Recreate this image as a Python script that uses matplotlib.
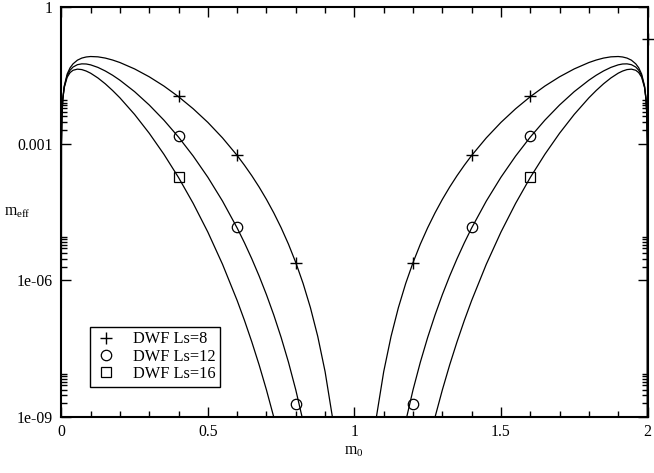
import matplotlib
matplotlib.use("Agg")
import matplotlib.pyplot as plt
import numpy as np

plt.rcParams['font.family'] = ['Liberation Serif', 'DejaVu Serif']
plt.rcParams['mathtext.default'] = 'regular'

# ---- curve data (log10 of m_eff) ----
x_left = [0, 0.0005, 0.002, 0.005, 0.01, 0.02, 0.03, 0.04, 0.055, 0.07, 0.085, 0.1,
          0.125, 0.15, 0.175, 0.2, 0.25, 0.3, 0.35, 0.4, 0.45, 0.5, 0.55, 0.6, 0.625,
          0.65, 0.675, 0.7, 0.725, 0.75, 0.775, 0.8, 0.825, 0.85, 0.875, 0.9, 0.925, 0.95]
x_right = [1.05, 1.075, 1.1, 1.125, 1.15, 1.175, 1.2, 1.225, 1.25, 1.275, 1.3, 1.325,
           1.35, 1.375, 1.4, 1.45, 1.5, 1.55, 1.6, 1.65, 1.7, 1.75, 1.8, 1.825, 1.85,
           1.875, 1.9, 1.915, 1.93, 1.945, 1.96, 1.97, 1.98, 1.99, 1.995, 1.998, 1.9995, 2.0]

log_L8_left = [-12, -3.002, -2.405, -2.018, -1.736, -1.472, -1.334, -1.248, -1.167, -1.121,
               -1.097, -1.087, -1.094, -1.121, -1.164, -1.219, -1.359, -1.532, -1.735, -1.969,
               -2.234, -2.533, -2.873, -3.259, -3.474, -3.704, -3.953, -4.224, -4.520, -4.845,
               -5.205, -5.610, -6.069, -6.601, -7.232, -8.004, -9.002, -10.409]
log_L8_right = [-10.409, -9.002, -8.004, -7.232, -6.601, -6.069, -5.610, -5.205, -4.845,
                -4.520, -4.224, -3.953, -3.704, -3.474, -3.259, -2.873, -2.533, -2.234,
                -1.969, -1.735, -1.532, -1.359, -1.219, -1.164, -1.121, -1.094, -1.087,
                -1.097, -1.121, -1.167, -1.248, -1.334, -1.472, -1.736, -2.018, -2.405,
                -3.002, -12]

log_L12_left = [-12, -3.003, -2.408, -2.027, -1.753, -1.507, -1.387, -1.318, -1.266, -1.248,
                -1.251, -1.270, -1.326, -1.404, -1.498, -1.607, -1.858, -2.151, -2.483, -2.856,
                -3.272, -3.737, -4.260, -4.851, -5.177, -5.528, -5.906, -6.316, -6.762, -7.253,
                -7.796, -8.405, -9.097, -9.897, -10.844, -12.004, -13.50, -15.62]
log_L12_right = [-15.62, -13.50, -12.004, -10.844, -9.897, -9.097, -8.405, -7.796, -7.253,
                 -6.762, -6.316, -5.906, -5.528, -5.177, -4.851, -4.260, -3.737, -3.272,
                 -2.856, -2.483, -2.151, -1.858, -1.607, -1.498, -1.404, -1.326, -1.270,
                 -1.251, -1.248, -1.266, -1.318, -1.387, -1.507, -1.753, -2.027, -2.408,
                 -3.003, -12]

log_L16_left = [-12, -3.004, -2.412, -2.036, -1.771, -1.542, -1.440, -1.389, -1.364, -1.374,
                -1.406, -1.453, -1.558, -1.686, -1.833, -1.994, -2.358, -2.771, -3.232, -3.743,
                -4.311, -4.941, -5.647, -6.443, -6.881, -7.352, -7.858, -8.407, -9.005, -9.661,
                -10.388, -11.20, -12.125, -13.19, -14.46, -16.00, -18.0, -20.8]
log_L16_right = [-20.8, -18.0, -16.00, -14.46, -13.19, -12.125, -11.20, -10.388, -9.661,
                 -9.005, -8.407, -7.858, -7.352, -6.881, -6.443, -5.647, -4.941, -4.311,
                 -3.743, -3.232, -2.771, -2.358, -1.994, -1.833, -1.686, -1.558, -1.453,
                 -1.406, -1.374, -1.364, -1.389, -1.440, -1.542, -1.771, -2.036, -2.412,
                 -3.004, -12]

# ---- marker data ----
m0_L8 = [0.4, 0.6, 0.8, 1.2, 1.4, 1.6, 2.0]
log_meff_L8 = [-1.95, -3.25, -5.61, -5.61, -3.25, -1.95, -0.70]
m0_L12 = [0.4, 0.6, 0.8, 1.2, 1.4, 1.6]
log_meff_L12 = [-2.84, -4.84, -8.71, -8.71, -4.84, -2.84]
m0_L16 = [0.4, 1.6]
log_meff_L16 = [-3.74, -3.74]

legend_labels = ['DWF Ls=8', 'DWF Ls=12', 'DWF Ls=16']
xtick_vals = [0, 0.5, 1, 1.5, 2]
xtick_labels = ['0', '0.5', '1', '1.5', '2']
ytick_vals = [1e-9, 1e-6, 1e-3, 1]
ytick_labels = ['1e-09', '1e-06', '0.001', '1']

FS = 11.3

fig = plt.figure(figsize=(6.54, 4.73), dpi=100)
ax = fig.add_axes([61.3 / 654, 1 - 417 / 473, (647.5 - 61.3) / 654, (417 - 7) / 473])

def p10(v):
    return [10.0 ** a for a in v]

for xs, ys in [(x_left, log_L8_left), (x_right, log_L8_right),
               (x_left, log_L12_left), (x_right, log_L12_right),
               (x_left, log_L16_left), (x_right, log_L16_right)]:
    ax.plot(xs, p10(ys), color='black', lw=0.9, solid_joinstyle='round')

h1, = ax.plot(m0_L8, p10(log_meff_L8), ls='none', marker='+', ms=9, mew=1.0,
              color='black', clip_on=False, label=legend_labels[0])
h2, = ax.plot(m0_L12, p10(log_meff_L12), ls='none', marker='o', ms=7.5, mew=0.9,
              mfc='none', mec='black', label=legend_labels[1])
h3, = ax.plot(m0_L16, p10(log_meff_L16), ls='none', marker='s', ms=6.5, mew=0.9,
              mfc='none', mec='black', label=legend_labels[2])

ax.set_yscale('log')
ax.set_xlim(0, 2)
ax.set_ylim(1e-9, 1)

ax.set_xticks(xtick_vals)
ax.set_xticklabels(xtick_labels)
ax.set_xticks(np.arange(0, 2.01, 0.1), minor=True)
ax.set_yticks(ytick_vals)
ax.set_yticklabels(ytick_labels)
yminor = []
for e in [-9, -6, -3]:
    for s in range(2, 10):
        yminor.append(s * 10.0 ** e)
ax.set_yticks(yminor, minor=True)
ax.yaxis.set_minor_formatter(matplotlib.ticker.NullFormatter())

ax.tick_params(which='both', direction='in', top=True, right=True, width=1.0, labelsize=FS)
ax.tick_params(which='major', length=7.5)
ax.tick_params(which='minor', length=4)
ax.tick_params(axis='x', which='major', pad=5)
ax.tick_params(axis='y', which='major', pad=6)

for s in ax.spines.values():
    s.set_linewidth(1.5)

fig.text(354 / 654, 1 - 451 / 473, r'$\mathregular{m_0}$', ha='center', va='center', fontsize=FS)
fig.text(4 / 654, 1 - 212 / 473, r'$\mathregular{m_{eff}}$', ha='left', va='center', fontsize=FS)

leg = ax.legend(handles=[h1, h2, h3], loc='lower left',
                bbox_to_anchor=((90 - 61.3) / 586.2, (417 - 387) / 410),
                borderaxespad=0, fancybox=False, framealpha=1, edgecolor='black',
                fontsize=FS + 0.5, handlelength=1.4, handletextpad=0.9, labelspacing=0.08,
                borderpad=0.3)
leg.get_frame().set_linewidth(1.0)

fig.savefig('out.png', dpi=100)
